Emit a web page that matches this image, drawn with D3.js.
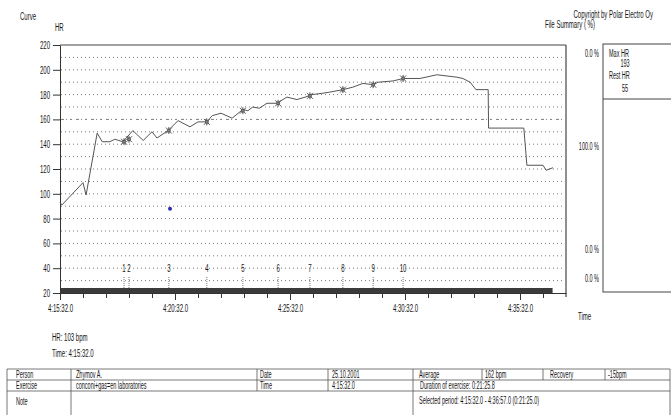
<!DOCTYPE html>
<html>
<head>
<meta charset="utf-8">
<script src="https://cdn.jsdelivr.net/npm/d3@7"></script>
<style>
  body { margin: 0; background: #fff; }
  svg text { font-family: 'Liberation Sans', Arial, sans-serif; fill: #151515; }
</style>
</head>
<body>
<div id="grafico"></div>
<script>
// Heart rate curve (seconds from 4:15:32.0, bpm)
const hrTime = [0, 5, 60, 68, 97, 110, 130, 143, 164, 190, 217, 240, 253, 282, 308, 339, 360, 383, 397, 420, 449,
  477, 490, 503, 520, 540, 566, 592, 618, 640, 657, 683, 704, 738, 764, 790, 817, 830, 869, 895, 939, 983, 1036, 1051,
  1070, 1085, 1117, 1118, 1210, 1218, 1260, 1268, 1286];
const hrValue = [93, 91, 109, 99, 149, 142, 142, 144, 142, 151, 143, 150, 145, 151, 159, 154, 158, 158, 163, 165, 161,
  168, 167, 170, 169, 173, 173, 178, 176, 178, 180, 181, 182, 184, 186, 189, 188, 190, 191, 193, 193, 196, 194, 193,
  190, 184, 184, 153, 153, 123, 123, 119, 121];

// Laps
const lapTime = [167, 180, 284, 383, 477, 569, 652, 738, 817, 895];
const lapHR = [142, 144, 151, 158, 167, 173, 179, 184, 188, 193];
const lapLabel = ['1', '2', '3', '4', '5', '6', '7', '8', '9', '10'];

// cursor point
const cursorTime = 287;
const cursorHR = 88;

const yTicks = [20, 40, 60, 80, 100, 120, 140, 160, 180, 200, 220];
const gridValues = [30, 40, 50, 60, 70, 80, 90, 100, 110, 120, 130, 140, 150, 160, 170, 180, 190, 200, 210];
const limitLine = 160;
const majorTicks = [0, 300, 600, 900, 1200];
const minorTicks = [60, 120, 180, 240, 360, 420, 480, 540, 660, 720, 780, 840, 960, 1020, 1080, 1140, 1260];
const selectedEnd = 1285;
const startClock = 4 * 3600 + 15 * 60 + 32;

const zoneLabels = ['0.0 %', '100.0 %', '0.0 %', '0.0 %'];
const zoneLevels = [213, 138, 55, 31];
const summaryLabels = ['Max HR', '193', 'Rest HR', '55'];

const tableRow1 = ['Person', 'Zhymov A.', 'Date', '25.10.2001', 'Average', '162 bpm', 'Recovery', '-15bpm'];
const tableRow2 = ['Exercise', 'conconi+gas=en laboratories', 'Time', '4:15:32.0', 'Duration of exercise: 0:21:25.8'];
const tableRow3 = ['Note', '', 'Selected period: 4:15:32.0 - 4:36:57.0 (0:21:25.0)'];

const largura = 671, altura = 415;
const SX = 0.55;

const svg = d3.select('#grafico').append('svg')
  .attr('width', largura).attr('height', altura);

function txt(parent, x, y, s, size, anchor) {
  return parent.append('text')
    .attr('transform', `translate(${x},${y}) scale(${SX},1)`)
    .attr('text-anchor', anchor || 'start')
    .attr('font-size', size || 11)
    .text(s);
}

function fmtTime(s) {
  const t = startClock + s;
  const h = Math.floor(t / 3600), m = Math.floor((t % 3600) / 60), sec = t % 60;
  return `${h}:${String(m).padStart(2, '0')}:${String(sec).padStart(2, '0')}.0`;
}

const x = d3.scaleLinear().domain([0, 1320]).range([60, 566]);
const y = d3.scaleLinear().domain([20, 220]).range([293, 45]);

// grid
svg.append('g').selectAll('line').data(gridValues).join('line')
  .attr('x1', 61).attr('x2', 565)
  .attr('y1', d => y(d)).attr('y2', d => y(d))
  .attr('stroke', '#7a7a7a')
  .attr('stroke-dasharray', d => d === limitLine ? '3,2,1,3,2,4' : '1,3');

// frame top + right
svg.append('line').attr('x1', 60).attr('x2', 566).attr('y1', y(220)).attr('y2', y(220))
  .attr('stroke', '#444').attr('stroke-width', 1.2);
svg.append('line').attr('x1', 566).attr('x2', 566).attr('y1', y(220)).attr('y2', 297)
  .attr('stroke', '#444').attr('stroke-width', 1.2);

// selected period bar
svg.append('rect').attr('x', x(0)).attr('y', y(20) - 5)
  .attr('width', x(selectedEnd) - x(0)).attr('height', 6)
  .attr('fill', '#3a3a3a');

// axes
const yAxis = svg.append('g').attr('transform', 'translate(60,0)')
  .call(d3.axisLeft(y).tickValues(yTicks).tickSize(7).tickSizeOuter(0).tickFormat(d3.format('d')));
yAxis.selectAll('path, line').attr('stroke', '#333');
yAxis.selectAll('text').attr('x', -10 / SX).attr('transform', `scale(${SX},1)`)
  .attr('font-size', 11).attr('font-family', null);

const xAxis = svg.append('g').attr('transform', `translate(0,${y(20)})`)
  .call(d3.axisBottom(x).tickValues(majorTicks).tickSize(7).tickSizeOuter(0).tickFormat(fmtTime));
xAxis.selectAll('path, line').attr('stroke', '#333');
xAxis.selectAll('text').attr('y', 19).attr('dy', null).attr('transform', `scale(${SX},1)`)
  .attr('font-size', 11).attr('font-family', null);

const xMinor = svg.append('g').attr('transform', `translate(0,${y(20)})`)
  .call(d3.axisBottom(x).tickValues(minorTicks).tickSize(5).tickSizeOuter(0).tickFormat(''));
xMinor.select('path').remove();
xMinor.selectAll('line').attr('stroke', '#333');

// lap markers on the time line
const laps = svg.append('g');
laps.selectAll('line').data(lapTime).join('line')
  .attr('x1', d => x(d)).attr('x2', d => x(d))
  .attr('y1', 277).attr('y2', y(20) - 5)
  .attr('stroke', '#777').attr('stroke-dasharray', '1,1');
lapTime.forEach((t, i) => txt(laps, x(t), 272, lapLabel[i], 11, 'middle'));

// HR curve
const pts = hrTime.map((t, i) => [t, hrValue[i]]);
const linha = d3.line().x(d => x(d[0])).y(d => y(d[1]));
svg.append('path').datum(pts)
  .attr('fill', 'none').attr('stroke', '#555').attr('stroke-width', 1)
  .attr('d', linha);

// lap symbols on curve
const sym = svg.append('g').selectAll('g').data(lapTime).join('g')
  .attr('transform', (d, i) => `translate(${x(d)},${y(lapHR[i])})`)
  .attr('stroke', '#555').attr('stroke-width', 1);
sym.append('path').attr('d', 'M-3,-3L3,3M-3,3L3,-3M0,-3.5L0,3.5');
sym.append('circle').attr('r', 1.5).attr('fill', '#888');

// cursor dot
svg.append('circle').attr('cx', x(cursorTime)).attr('cy', y(cursorHR)).attr('r', 2)
  .attr('fill', '#2a2fb0');

// titles
txt(svg, 20, 20, 'Curve', 11);
txt(svg, 55, 31, 'HR', 11);
txt(svg, 653, 18, 'Copyright by Polar Electro Oy', 11, 'end');
txt(svg, 545, 28, 'File Summary ( %)', 11);
txt(svg, 578, 320, 'Time', 11);
txt(svg, 52, 341, 'HR: 103 bpm', 11);
txt(svg, 52, 357, 'Time: 4:15:32.0', 11);

// zone percentages
zoneLabels.forEach((s, i) => txt(svg, 599, y(zoneLevels[i]) + 3, s, 10, 'end'));

// summary box
svg.append('rect').attr('x', 603).attr('y', 44).attr('width', 80).attr('height', 248)
  .attr('fill', 'none').attr('stroke', '#444');
svg.append('line').attr('x1', 603).attr('x2', 671).attr('y1', 99).attr('y2', 99).attr('stroke', '#444');
txt(svg, 609, 57, summaryLabels[0], 10);
txt(svg, 625, 67, summaryLabels[1], 10, 'middle');
txt(svg, 609, 79, summaryLabels[2], 10);
txt(svg, 625, 92, summaryLabels[3], 10, 'middle');

// info table
const cols = [7, 71, 257, 328, 413, 482, 543, 605, 670];
const rows = [369, 380, 391, 420];
const tab = svg.append('g').attr('stroke', '#555').attr('stroke-width', 0.8);
rows.forEach(r => tab.append('line').attr('x1', cols[0]).attr('x2', cols[8]).attr('y1', r).attr('y2', r));
cols.forEach(c => tab.append('line').attr('x1', c).attr('x2', c).attr('y1', rows[0]).attr('y2', rows[1]));
[7, 71, 257, 328, 413, 670].forEach(c => tab.append('line').attr('x1', c).attr('x2', c).attr('y1', rows[1]).attr('y2', rows[2]));
[7, 71, 413, 670].forEach(c => tab.append('line').attr('x1', c).attr('x2', c).attr('y1', rows[2]).attr('y2', rows[3]));

const pad = [9, 5, 3, 4, 6, 3, 7, 3];
tableRow1.forEach((s, i) => txt(svg, cols[i] + pad[i], 378, s, 10));
tableRow2.forEach((s, i) => txt(svg, cols[i] + (i < 4 ? pad[i] : 7), 389, s, 10));
txt(svg, cols[0] + pad[0], 405, tableRow3[0], 10);
txt(svg, cols[4] + 6, 404, tableRow3[2], 10);
</script>
</body>
</html>
